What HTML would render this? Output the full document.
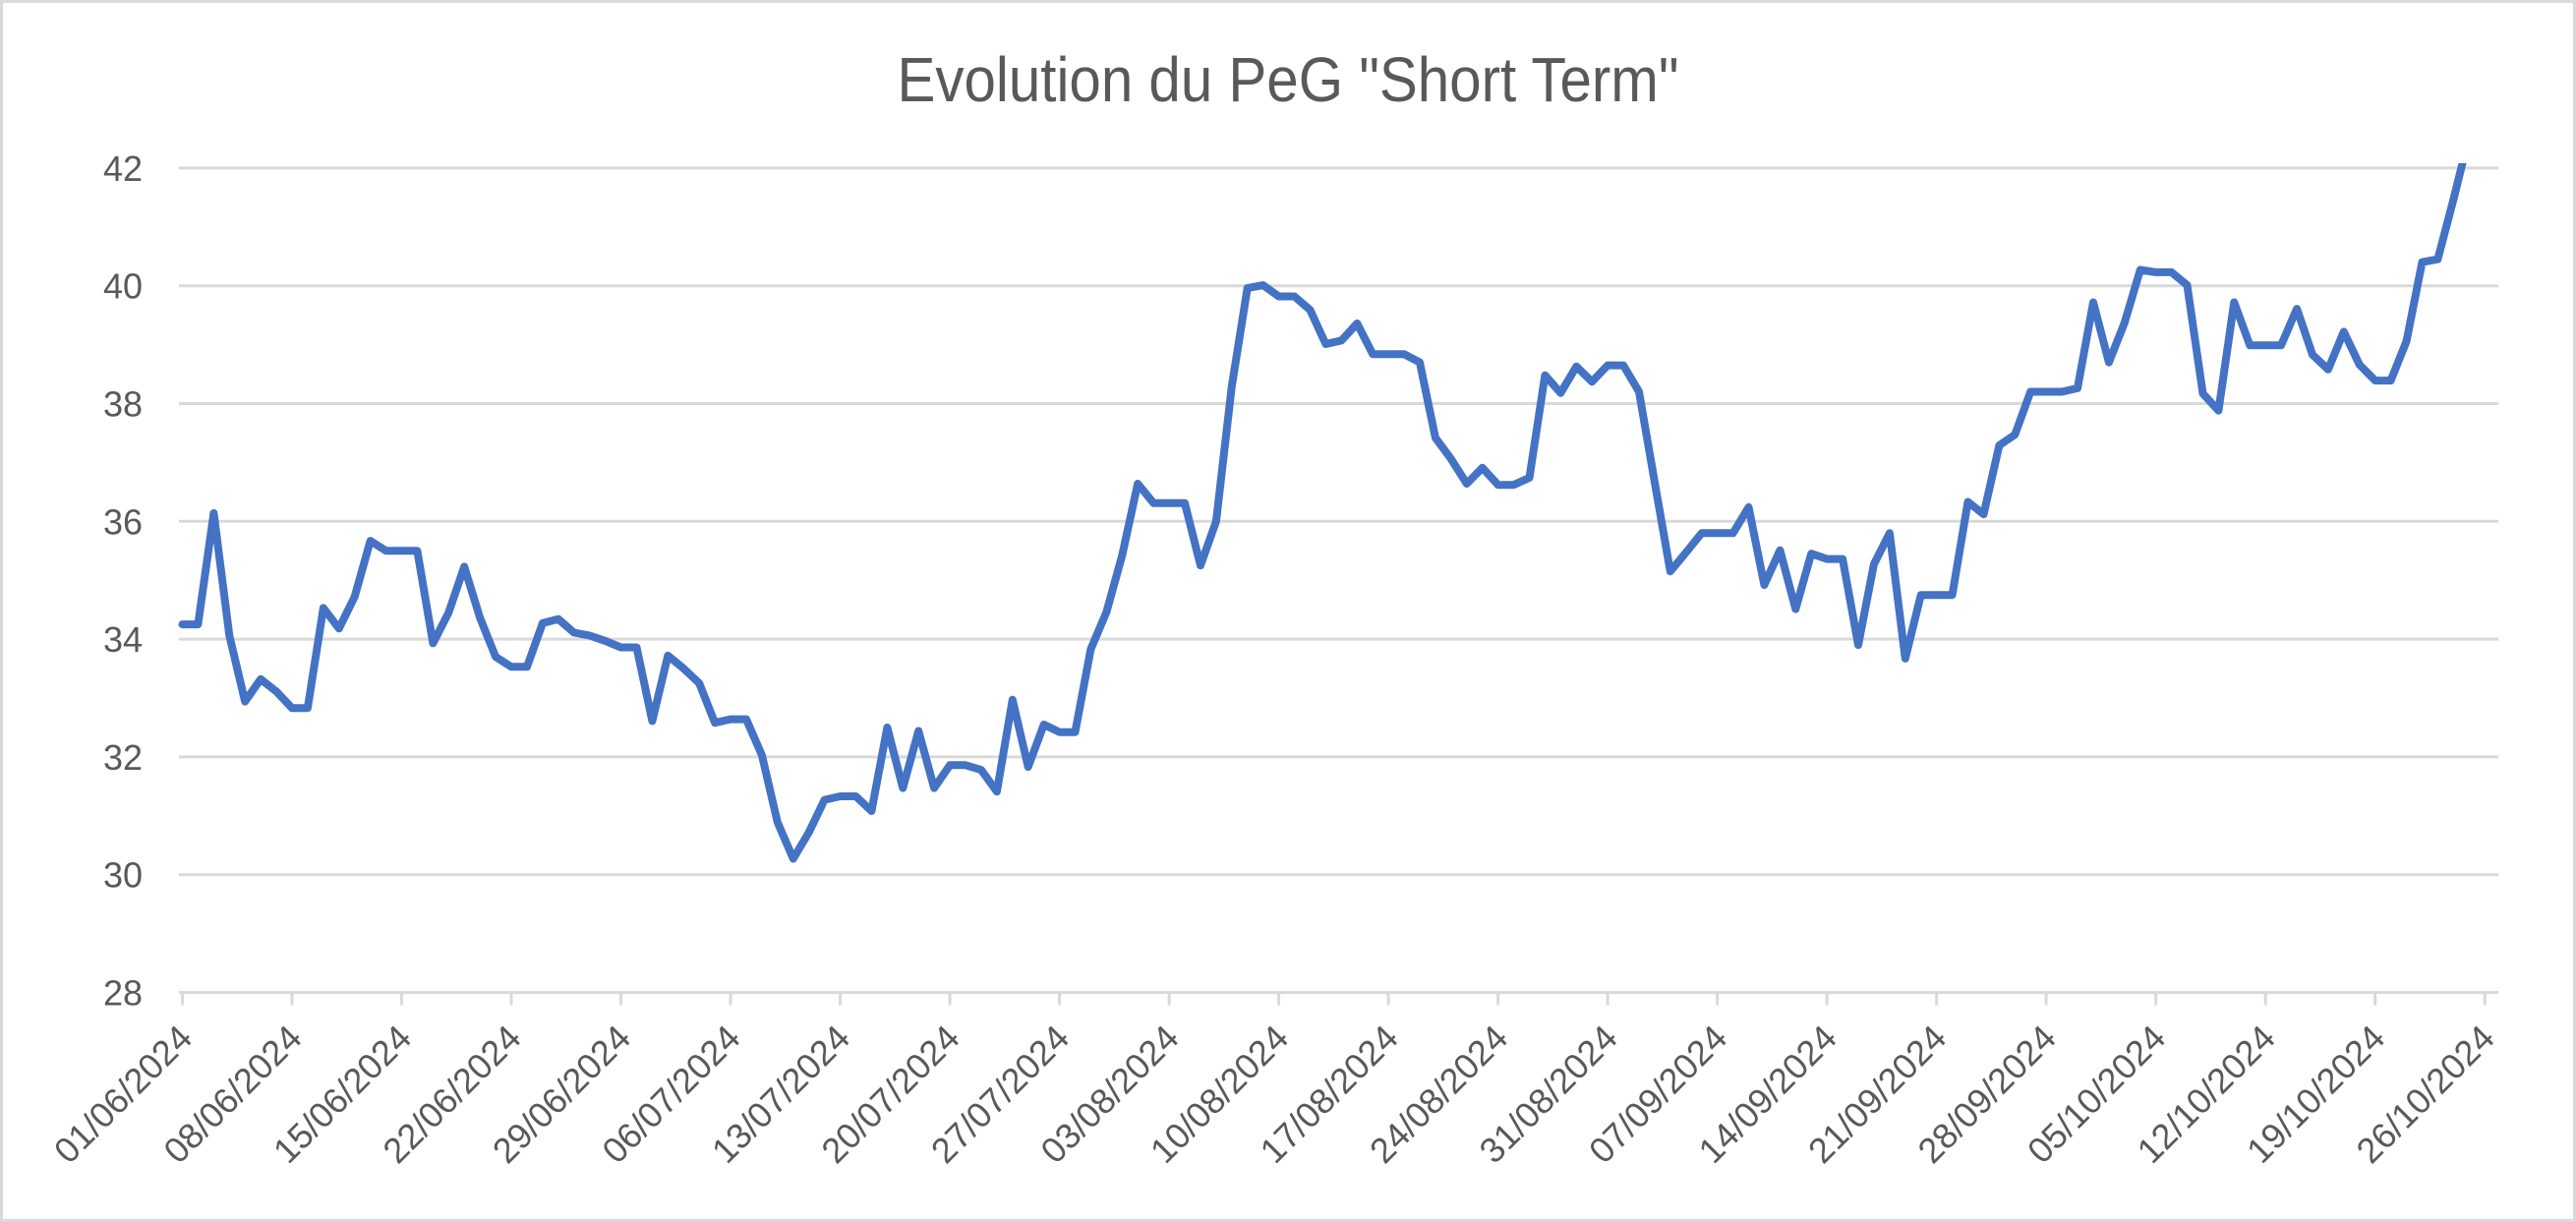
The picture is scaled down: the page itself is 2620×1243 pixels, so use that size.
<!DOCTYPE html>
<html><head><meta charset="utf-8"><style>
html,body{margin:0;padding:0;background:#fff;}
svg{display:block;font-family:"Liberation Sans",sans-serif;}
</style></head><body>
<svg id="chart" width="2620" height="1243" viewBox="0 0 2620 1243" xmlns="http://www.w3.org/2000/svg">
<rect x="1.5" y="1.5" width="2617" height="1240" fill="#fff" stroke="#d9d9d9" stroke-width="3"/>
<text x="1310" y="103" text-anchor="middle" font-size="64" fill="#595959" textLength="795" lengthAdjust="spacingAndGlyphs">Evolution du PeG "Short Term"</text>
<defs><clipPath id="plotclip"><rect x="150" y="166" width="2420" height="860"/></clipPath></defs>
<g id="grid"></g>
<g id="yaxis"></g>
<g id="xaxis"></g>
<g id="series" clip-path="url(#plotclip)"></g>
</svg>
<script>
const pointIdx = [0,1,2,3,4,5,6,7,8,9,10,11,12,13,14,15,16,17,18,19,20,21,22,23,24,25,26,27,28,29,30,31,32,33,34,35,36,37,38,39,40,41,42,43,44,45,46,47,48,49,50,51,52,53,54,55,56,57,58,59,60,61,62,63,64,65,66,67,68,69,70,71,72,73,74,75,76,77,78,79,80,81,82,83,84,85,86,87,88,89,90,91,92,93,94,95,96,97,98,99,100,101,102,103,104,105,106,107,108,109,110,111,112,113,114,115,116,117,118,119,120,121,122,123,124,125,126,127,128,129,130,131,132,133,134,135,136,137,138,139,140,141,142,143,144,145,146];
const values = [34.25,34.25,36.14,34.06,32.94,33.32,33.11,32.83,32.83,34.53,34.18,34.72,35.67,35.5,35.5,35.5,33.93,34.45,35.23,34.36,33.7,33.53,33.53,34.27,34.34,34.11,34.06,33.97,33.86,33.86,32.61,33.72,33.5,33.25,32.58,32.64,32.64,32.03,30.89,30.27,30.72,31.27,31.33,31.33,31.08,32.5,31.47,32.44,31.47,31.86,31.86,31.78,31.41,32.97,31.83,32.55,32.42,32.42,33.83,34.46,35.42,36.64,36.31,36.31,36.31,35.25,36.0,38.29,39.96,40.01,39.82,39.82,39.59,39.01,39.07,39.36,38.84,38.84,38.84,38.7,37.42,37.06,36.64,36.91,36.62,36.62,36.74,38.48,38.18,38.63,38.37,38.65,38.65,38.2,36.67,35.15,35.47,35.8,35.8,35.8,36.24,34.92,35.51,34.51,35.45,35.36,35.36,33.9,35.27,35.8,33.67,34.75,34.75,34.75,36.33,36.12,37.29,37.47,38.2,38.2,38.2,38.26,39.72,38.7,39.37,40.27,40.23,40.23,40.01,38.17,37.88,39.72,38.99,38.99,38.99,39.61,38.83,38.58,39.22,38.66,38.39,38.39,39.06,40.4,40.45,41.46,42.54];
const yTicks = [28,30,32,34,36,38,40,42];
const xTickIdx = [0,7,14,21,28,35,42,49,56,63,70,77,84,91,98,105,112,119,126,133,140,147];
const xTickLabels = ["01/06/2024","08/06/2024","15/06/2024","22/06/2024","29/06/2024","06/07/2024","13/07/2024","20/07/2024","27/07/2024","03/08/2024","10/08/2024","17/08/2024","24/08/2024","31/08/2024","07/09/2024","14/09/2024","21/09/2024","28/09/2024","05/10/2024","12/10/2024","19/10/2024","26/10/2024"];

const NS="http://www.w3.org/2000/svg";
const X0=185.5, DX=15.93, Y28=1009.5, PXU=59.9, GL=182, GR=2541;
function xs(i){return X0+i*DX;}
function ys(v){return Y28-(v-28)*PXU;}
function mk(tag,attrs,parent){const e=document.createElementNS(NS,tag);for(const k in attrs)e.setAttribute(k,attrs[k]);parent.appendChild(e);return e;}
const grid=document.getElementById('grid'),yaxis=document.getElementById('yaxis'),xaxis=document.getElementById('xaxis'),series=document.getElementById('series');
yTicks.forEach(t=>{
  if(t!==28){const g=mk('line',{x1:GL,x2:GR,y1:ys(t),y2:ys(t),stroke:'#d9d9d9','stroke-width':3},grid);
  
  }
  const lb=mk('text',{x:145,y:ys(t)+13,'text-anchor':'end','font-size':36,fill:'#595959'},yaxis);
  lb.textContent=t;
  
  
});
const ax=mk('line',{x1:GL,x2:GR,y1:ys(28),y2:ys(28),stroke:'#d9d9d9','stroke-width':3},xaxis);


xTickIdx.forEach((ti,k)=>{
  const x=xs(ti);
  const tk=mk('line',{x1:x,x2:x,y1:ys(28),y2:ys(28)+13,stroke:'#d9d9d9','stroke-width':3},xaxis);
  
  
  const lb=mk('text',{x:x+12,y:1058,'text-anchor':'end','font-size':36,fill:'#595959',transform:`rotate(-45 ${x+12} 1058)`},xaxis);
  lb.textContent=xTickLabels[k];
  
  
});
const d=pointIdx.map((i,k)=>(k?'L':'M')+xs(i).toFixed(1)+','+ys(values[k]).toFixed(1)).join(' ');
const p=mk('path',{d:d,fill:'none',stroke:'#4472c4','stroke-width':8,'stroke-linejoin':'round','stroke-linecap':'round'},series);


</script>
</body></html>
